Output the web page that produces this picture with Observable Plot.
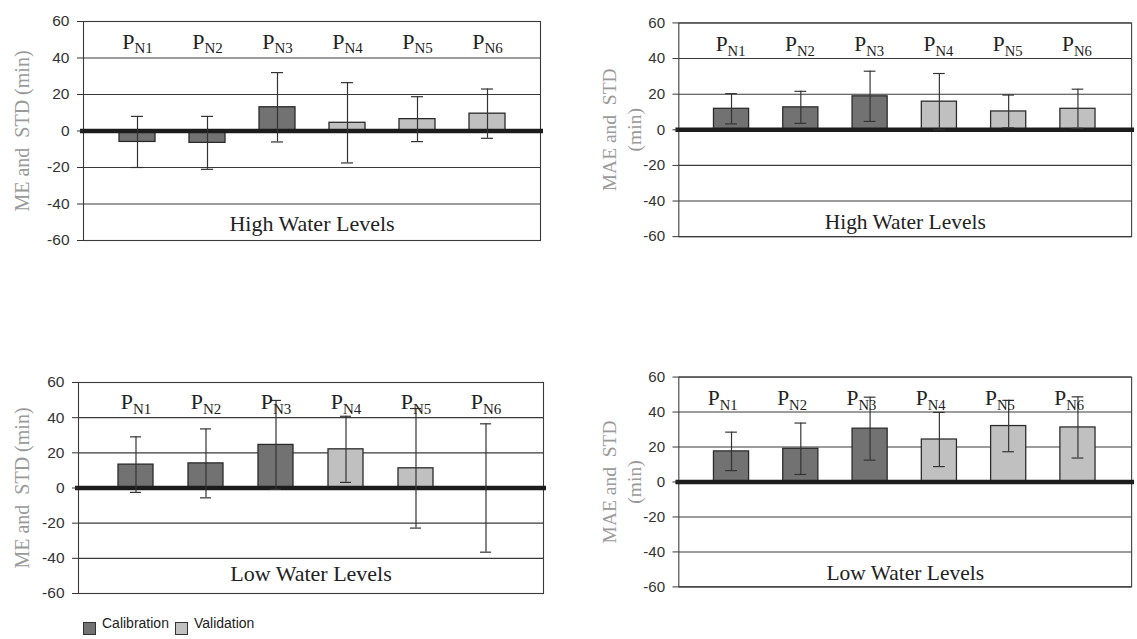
<!DOCTYPE html>
<html>
<head>
<meta charset="utf-8">
<script src="https://cdn.jsdelivr.net/npm/d3@7"></script>
<script src="https://cdn.jsdelivr.net/npm/@observablehq/plot@0.6"></script>
<style>
  html, body { margin: 0; padding: 0; background: #fff; }
  body { width: 1137px; height: 639px; overflow: hidden; position: relative; font-family: "Liberation Sans", Arial, sans-serif; }
  .panel { position: absolute; }
  .panel svg { overflow: visible; }
  .panel svg g[aria-label="y-axis tick label"], .panel svg g[aria-label="y-axis tick label"] text { font-size: 15.5px !important; fill: #333; }
  #legend { position: absolute; left: 83px; top: 615px; display: flex; align-items: flex-end; font-size: 14px; color: #222; }
  #legend .sw { width: 13px; height: 13px; border: 1px solid #333; box-sizing: border-box; margin-right: 6px; margin-bottom: -4px; }
  #legend .item { display: flex; align-items: flex-end; margin-right: 6px; }
</style>
</head>
<body>
<div id="tl" class="panel" style="left:0px; top:0px;"></div>
<div id="tr" class="panel" style="left:570px; top:0px;"></div>
<div id="bl" class="panel" style="left:0px; top:360px;"></div>
<div id="br" class="panel" style="left:570px; top:360px;"></div>
<div id="legend"></div>
<script>
// ---- data ----
const categories = ["PN1", "PN2", "PN3", "PN4", "PN5", "PN6"];
const subscripts = ["N1", "N2", "N3", "N4", "N5", "N6"];
const dataSets = ["Calibration", "Calibration", "Calibration", "Validation", "Validation", "Validation"];
const setNames = ["Calibration", "Validation"];
const setColors = ["#727272", "#c0c0c0"];
const yTicks = [-60, -40, -20, 0, 20, 40, 60];

const highME = [-6, -6.5, 13, 4.5, 6.5, 9.5];
const highMEStd = [14, 14.5, 19, 22, 12.3, 13.5];
const highMAE = [11.8, 12.6, 18.8, 15.8, 10.3, 11.8];
const highMAEStd = [8.5, 9, 14.1, 15.8, 9.2, 11];
const lowME = [13.3, 14, 24.5, 22, 11.2, 0];
const lowMEStd = [15.8, 19.6, 25.3, 18.8, 34, 36.5];
const lowMAE = [17.5, 19, 30.5, 24.3, 32, 31.2];
const lowMAEStd = [11, 14.7, 18, 15.5, 14.7, 17.5];

const serif = "Liberation Serif, Times New Roman, serif";

function panel(el, opts) {
  const data = categories.map((c, i) => ({cat: c, sub: subscripts[i], set: dataSets[i], v: opts.values[i], s: opts.stds[i]}));
  const chart = Plot.plot({
    width: opts.width, height: opts.height,
    marginTop: opts.mt, marginBottom: opts.mb, marginLeft: opts.ml, marginRight: opts.mr,
    style: {background: "transparent", overflow: "visible", fontSize: "15.5px", fontFamily: "Liberation Sans, Arial, sans-serif"},
    x: {domain: categories, paddingInner: opts.pi, paddingOuter: opts.po, axis: null},
    y: {domain: [-60, 60], axis: null},
    color: {domain: setNames, range: setColors},
    marks: [
      Plot.gridY(yTicks, {stroke: "#3a3a3a", strokeOpacity: 1, strokeWidth: 1.1}),
      Plot.frame({stroke: "#3a3a3a", strokeWidth: 1.1}),
      Plot.barY(data, {x: "cat", y: "v", fill: "set", stroke: "#2a2a2a", strokeWidth: 1.3}),
      Plot.ruleY([0], {stroke: "#1c1c1c", strokeWidth: 4.5, insetLeft: -3, insetRight: -3}),
      Plot.ruleX(data, {x: "cat", y1: d => d.v - d.s, y2: d => d.v + d.s, stroke: "#333", strokeWidth: 1.2}),
      Plot.tickY(data, {x: "cat", y: d => d.v + d.s, stroke: "#333", strokeWidth: 1.2, insetLeft: 12, insetRight: 12}),
      Plot.tickY(data, {x: "cat", y: d => d.v - d.s, stroke: "#333", strokeWidth: 1.2, insetLeft: 12, insetRight: 12}),
      Plot.text(data, {x: "cat", y: () => opts.labelY, text: () => "P", textAnchor: "end", dx: opts.ldx, fontFamily: serif, fontSize: 22, fill: "#222"}),
      Plot.text(data, {x: "cat", y: () => opts.labelY, text: "sub", textAnchor: "start", dx: opts.ldx, dy: 7, fontFamily: serif, fontSize: 15, fill: "#222"}),
      Plot.text([opts.title], {y: () => opts.titleY, frameAnchor: "middle", text: d => d, fontFamily: serif, fontSize: 22, fill: "#222"}),
      Plot.axisY(yTicks, {tickSize: 6, tickPadding: 8, fontSize: 15.5, color: "#333", label: null, tickFormat: d => String(d)}),
      Plot.text([opts.ylabel], {frameAnchor: "left", rotate: -90, textAnchor: "middle", lineAnchor: "middle", dx: opts.ydx, text: d => d, fontFamily: serif, fontSize: 20, fill: "#9a9a9a", lineHeight: 1.3})
    ]
  });
  document.getElementById(el).appendChild(chart);
}

panel("tl", {values: highME, stds: highMEStd, title: "High Water Levels", ylabel: "ME and\u00a0 STD (min)",
  width: 560, height: 260, mt: 21, mb: 20, ml: 83, mr: 20, pi: 0.49, po: 0.48, labelY: 49, titleY: -51, ldx: -3, ydx: -63});
panel("tr", {values: highMAE, stds: highMAEStd, title: "High Water Levels", ylabel: "MAE and\u00a0 STD\n(min)",
  width: 581, height: 262, mt: 23, mb: 20, ml: 111, mr: 6, pi: 0.49, po: 0.48, labelY: 48, titleY: -52, ldx: -4, ydx: -60});
panel("bl", {values: lowME, stds: lowMEStd, title: "Low Water Levels", ylabel: "ME and\u00a0 STD (min)",
  width: 560, height: 253, mt: 22, mb: 20, ml: 78, mr: 17, pi: 0.5, po: 0.55, labelY: 49, titleY: -49, ldx: -3, ydx: -58});
panel("br", {values: lowMAE, stds: lowMAEStd, title: "Low Water Levels", ylabel: "MAE and\u00a0 STD\n(min)",
  width: 581, height: 252, mt: 17, mb: 20, ml: 111, mr: 6, pi: 0.49, po: 0.48, labelY: 48, titleY: -52, ldx: -12, ydx: -60});

// legend
const legend = document.getElementById("legend");
setNames.forEach((name, i) => {
  const item = document.createElement("div");
  item.className = "item";
  const sw = document.createElement("div");
  sw.className = "sw";
  sw.style.background = setColors[i];
  const lab = document.createElement("span");
  lab.textContent = name;
  item.appendChild(sw);
  item.appendChild(lab);
  legend.appendChild(item);
});
</script>
</body>
</html>
